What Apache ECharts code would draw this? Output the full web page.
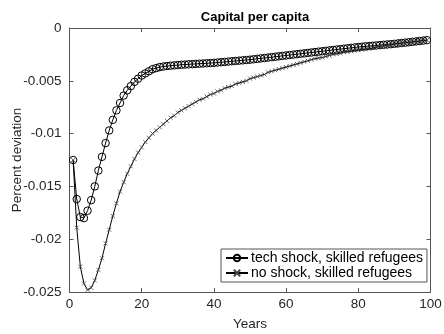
<!DOCTYPE html>
<html>
<head>
<meta charset="utf-8">
<script src="https://cdn.jsdelivr.net/npm/echarts@6/dist/echarts.min.js"></script>
<style>
html,body{margin:0;padding:0;background:#fff;}
#chart{width:444px;height:334px;}
</style>
</head>
<body>
<div id="chart"></div>
<script>
const seriesNames = ['tech shock, skilled refugees', 'no shock, skilled refugees'];
const techShock = [
 -0.0125, -0.0162, -0.0179, -0.0180, -0.0173, -0.0163, -0.0150, -0.0135, -0.0122, -0.0109,
 -0.0097, -0.0087, -0.0078, -0.0071, -0.0064, -0.0059, -0.0055, -0.0051, -0.0048, -0.0045,
 -0.0043, -0.0041, -0.0039, -0.0038, -0.0037, -0.00365, -0.0036, -0.00357, -0.00354, -0.00351,
 -0.00348, -0.00346, -0.00344, -0.00342, -0.0034, -0.00338, -0.00336, -0.00334, -0.00332, -0.0033,
 -0.00327, -0.00324, -0.00321, -0.00318, -0.00315, -0.00312, -0.00309, -0.00306, -0.00303, -0.003,
 -0.00296, -0.00292, -0.00288, -0.00284, -0.0028, -0.00276, -0.00272, -0.00268, -0.00264, -0.0026,
 -0.00256, -0.00252, -0.00248, -0.00244, -0.0024, -0.00236, -0.00232, -0.00228, -0.00224, -0.0022,
 -0.00216, -0.00212, -0.00208, -0.00204, -0.002, -0.00196, -0.00192, -0.00188, -0.00184, -0.0018,
 -0.00177, -0.00174, -0.00171, -0.00168, -0.00165, -0.00162, -0.00159, -0.00156, -0.00153, -0.0015,
 -0.00146, -0.00142, -0.00139, -0.00135, -0.00131, -0.00127, -0.00123, -0.00119, -0.00115
];
const noShock = [
 -0.0125, -0.0189, -0.0226, -0.0242, -0.0248, -0.0246, -0.0239, -0.0229, -0.0218, -0.0204,
 -0.0191, -0.0178, -0.0166, -0.0155, -0.0146, -0.0138, -0.0131, -0.0124, -0.0118, -0.0113,
 -0.0108, -0.0104, -0.0100, -0.0097, -0.0094, -0.0091, -0.0088, -0.0085, -0.0083, -0.0080,
 -0.0078, -0.0076, -0.0074, -0.0072, -0.0070, -0.0068, -0.0067, -0.0065, -0.0063, -0.0062,
 -0.0060, -0.0059, -0.0057, -0.0056, -0.0055, -0.0053, -0.0052, -0.0051, -0.0050, -0.0048,
 -0.0047, -0.0046, -0.0045, -0.0044, -0.0042, -0.0041, -0.0040, -0.0039, -0.0038, -0.0037,
 -0.0036, -0.0035, -0.0034, -0.0033, -0.0032, -0.0031, -0.0030, -0.0029, -0.00285, -0.0028,
 -0.0027, -0.0026, -0.0025, -0.00245, -0.0024, -0.0023, -0.00225, -0.0022, -0.00215, -0.0021,
 -0.00205, -0.0020, -0.00195, -0.0019, -0.0018, -0.00175, -0.0017, -0.00165, -0.0016, -0.0015,
 -0.00147, -0.00143, -0.0014, -0.00136, -0.00132, -0.00128, -0.00124, -0.0012, -0.00116
];
const years = techShock.map((_, i) => i + 1);
const xTickLabels = ['0', '20', '40', '60', '80', '100'];
const yTickLabels = ['-0.025', '-0.02', '-0.015', '-0.01', '-0.005', '0'];

const font = 'Liberation Sans, Arial, sans-serif';
const axisCol = '#555';
const xMin = 0, xMax = 100, xStep = 20;
const yMin = -0.025, yMax = 0, yStep = 0.005;

const chart = echarts.init(document.getElementById('chart'), null, {renderer: 'canvas'});

function frameAxis(base, extra) {
  return Object.assign({
    axisLine: {show: true, onZero: false, lineStyle: {color: axisCol, width: 1}},
    axisTick: {show: true, inside: true, length: 4, lineStyle: {color: axisCol, width: 1}},
    splitLine: {show: false}
  }, base, extra);
}

const option = {
  animation: false,
  backgroundColor: '#fff',
  title: {
    text: 'Capital per capita',
    left: 250, top: 6, textAlign: 'center',
    textStyle: {fontFamily: font, fontSize: 13, fontWeight: 'bold', color: '#000'}
  },
  grid: {left: 69.5, right: 13.5, top: 28, bottom: 42, containLabel: false, outerBoundsMode: 'none'},
  legend: {
    data: seriesNames,
    orient: 'vertical',
    left: 221, top: 249,
    padding: [2, 4, 2, 4],
    itemGap: 1,
    itemWidth: 22, itemHeight: 8,
    borderColor: '#555', borderWidth: 1,
    backgroundColor: '#fff',
    textStyle: {fontFamily: font, fontSize: 14, color: '#000', padding: [0, 0, 0, -2]}
  },
  xAxis: [
    frameAxis({
      type: 'value', min: xMin, max: xMax, interval: xStep,
      name: 'Years', nameLocation: 'middle', nameGap: 25, nameMoveOverlap: false,
      nameTextStyle: {fontFamily: font, fontSize: 13.5, color: '#262626'},
      axisLabel: {fontFamily: font, fontSize: 13.5, color: '#262626', margin: 5,
        formatter: v => xTickLabels[Math.round((v - xMin) / xStep)]}
    }),
    frameAxis({type: 'value', position: 'top', min: xMin, max: xMax, interval: xStep,
      axisLabel: {show: false}})
  ],
  yAxis: [
    frameAxis({
      type: 'value', min: yMin, max: yMax, interval: yStep,
      name: 'Percent deviation', nameLocation: 'middle', nameGap: 45, nameMoveOverlap: false,
      nameTextStyle: {fontFamily: font, fontSize: 13.5, color: '#262626'},
      axisLabel: {fontFamily: font, fontSize: 13.5, color: '#262626', margin: 8,
        formatter: v => yTickLabels[Math.round((v - yMin) / yStep)]}
    }),
    frameAxis({type: 'value', position: 'right', min: yMin, max: yMax, interval: yStep,
      axisLabel: {show: false}})
  ],
  series: [
    {
      name: seriesNames[0], type: 'line', xAxisIndex: 0, yAxisIndex: 0,
      data: years.map((x, i) => [x, techShock[i]]),
      symbol: 'circle', symbolSize: 7.5, showAllSymbol: true,
      lineStyle: {color: '#000', width: 1},
      itemStyle: {color: 'rgba(0,0,0,0)', borderColor: '#000', borderWidth: 1}
    },
    {
      name: seriesNames[1], type: 'line', xAxisIndex: 0, yAxisIndex: 0,
      data: years.map((x, i) => [x, noShock[i]]),
      symbol: 'path://M0,0L10,10M10,0L0,10', symbolSize: 4, showAllSymbol: true,
      lineStyle: {color: '#000', width: 1},
      itemStyle: {color: 'rgba(0,0,0,0)', borderColor: '#444', borderWidth: 0.8}
    }
  ]
};
chart.setOption(option);
</script>
</body>
</html>
